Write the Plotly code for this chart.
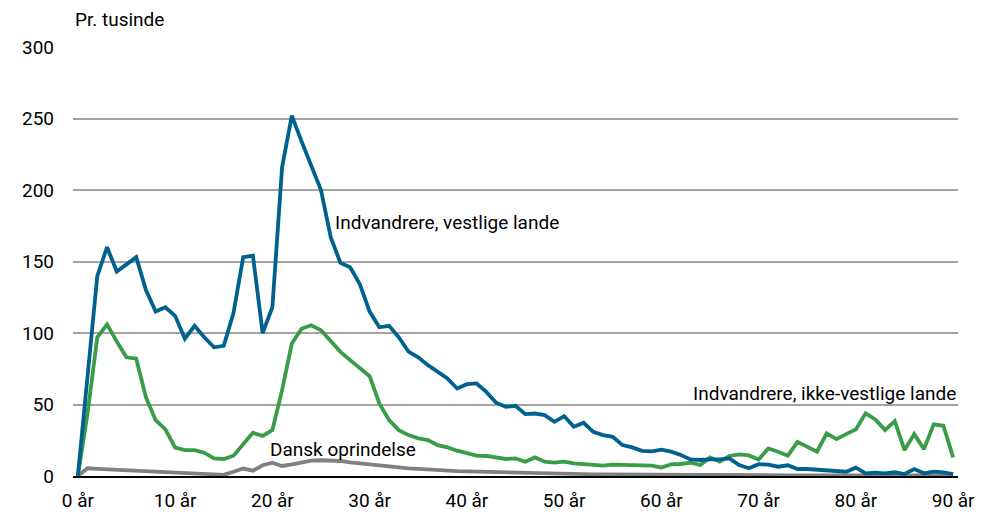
import plotly.graph_objects as go

ages = list(range(0, 91))

vestlige = [0, 70, 140, 160, 143, 148, 153, 130, 115, 118, 112, 96, 105, 97, 90, 91, 114, 153, 154, 100,
            118, 216, 252, 234, 217, 200, 167, 149, 146, 134, 115, 104, 105, 97, 87, 83, 77.5, 72.8, 68.2, 61.2,
            64.2, 64.7, 58.8, 51.2, 48.4, 49.1, 43.3, 43.7, 42.6, 37.9, 41.9, 34.4, 37.2, 30.9, 28.6, 27.4, 21.6, 20, 17.6, 17.2,
            18.4, 17, 14.7, 11.6, 11.2, 11.6, 11.6, 12.3, 7.7, 5.4, 8.2, 8, 6.5, 7.5, 4.9, 4.9, 4.5, 4.2, 3.7, 3,
            5.8, 1.9, 2.3, 1.9, 2.6, 1.4, 4.9, 1.9, 3, 2.6, 1.4]

ikke_vestlige = [0, 44, 97, 106, 94, 83, 82, 55, 39, 32.6, 19.8, 18.1, 18.1, 16.3, 12.3, 11.9, 14.2, 22.1, 30.2, 28.1,
                 32.1, 60, 92.6, 103, 105.4, 101.9, 94.4, 86.8, 81, 75.1, 69.8, 50.7, 39.1, 32.1, 28.6, 26.3, 25.1, 21.6, 20, 17.7,
                 15.8, 14.2, 14, 13, 11.9, 12.3, 10, 13, 10, 9.3, 10, 8.8, 8.4, 7.4, 7.2, 8, 7.7, 7.4, 7.4, 7.3,
                 5.9, 8.1, 8.4, 9.3, 7.7, 13, 10, 14, 15.1, 14.4, 11.6, 19.3, 17, 14.2, 23.9, 20.4, 17, 29.8, 25.8, 29.3,
                 32.6, 43.8, 39.6, 32.1, 38.4, 18.1, 29.3, 18.8, 36.1, 35.1, 13]

dansk = [0, 5.4, 5.0, 4.7, 4.4, 4.2, 4.0, 3.6, 3.3, 3.0, 2.7, 2.4, 2.1, 1.8, 1.4, 0.8, 3.0, 5.2, 3.7, 7.5,
         9.3, 7.0, 8.1, 9.3, 10.7, 11.0, 10.8, 10.5, 9.5, 8.8, 7.8, 7.2, 6.6, 6.0, 5.4, 5.0, 4.5, 4.0, 3.7, 3.4,
         3.2, 3.0, 2.8, 2.6, 2.4, 2.2, 2.0, 1.9, 1.8, 1.7, 1.6, 1.4, 1.3, 1.2, 1.1, 1.0, 1.0, 0.9, 0.9, 0.8,
         0.8, 0.8, 0.7, 0.7, 0.7, 0.7, 0.6, 0.6, 0.6, 0.6, 0.6, 0.6, 0.5, 0.5, 0.5, 0.5, 0.5, 0.5, 0.5, 0.5,
         0.5, 0.5, 0.5, 0.5, 0.5, 0.5, 0.5, 0.5, 0.5, 0.5, 0.5]

x_tickvals = [0, 10, 20, 30, 40, 50, 60, 70, 80, 90]
x_ticktext = ["0 år", "10 år", "20 år", "30 år", "40 år", "50 år", "60 år", "70 år", "80 år", "90 år"]
y_tickvals = [0, 50, 100, 150, 200, 250, 300]

FONT = "Roboto, Liberation Sans, Arial, sans-serif"

fig = go.Figure()
fig.add_trace(go.Scatter(x=ages, y=dansk, mode="lines", line=dict(color="#808080", width=3.8), name="Dansk oprindelse"))
fig.add_trace(go.Scatter(x=ages, y=ikke_vestlige, mode="lines", line=dict(color="#3a9c47", width=3.8), name="Indvandrere, ikke-vestlige lande"))
fig.add_trace(go.Scatter(x=ages, y=vestlige, mode="lines", line=dict(color="#00618e", width=3.8), name="Indvandrere, vestlige lande"))

fig.update_layout(
    width=985, height=516,
    margin=dict(l=65, r=35, t=39, b=48),
    plot_bgcolor="white", paper_bgcolor="white",
    showlegend=False,
    font=dict(family=FONT, size=19, color="black"),
    xaxis=dict(range=[-0.5, 90.5], tickvals=x_tickvals, ticktext=x_ticktext, automargin=False,
               showgrid=False, zeroline=False, showline=True, linecolor="black", linewidth=2,
               ticks="", ticklabelstandoff=6, tickfont=dict(size=19)),
    yaxis=dict(range=[0, 300], tickvals=y_tickvals, showgrid=True, gridcolor="#a3a3a3", gridwidth=2,
               automargin=False, zeroline=False, ticks="", ticklabelstandoff=18, tickfont=dict(size=19)),
    annotations=[
        dict(text="Pr. tusinde", xref="paper", yref="paper", x=0, y=1.063, xanchor="left", yanchor="middle",
             showarrow=False, font=dict(size=19)),
        dict(text="Indvandrere, vestlige lande", x=26.2, y=177, xanchor="left", yanchor="middle",
             showarrow=False, font=dict(size=19)),
        dict(text="Indvandrere, ikke-vestlige lande", x=90.5, y=58, xanchor="right", yanchor="middle",
             showarrow=False, font=dict(size=19)),
        dict(text="Dansk oprindelse", x=19.5, y=18.8, xanchor="left", yanchor="middle",
             showarrow=False, font=dict(size=19)),
    ],
)

fig.write_html("out.html")
